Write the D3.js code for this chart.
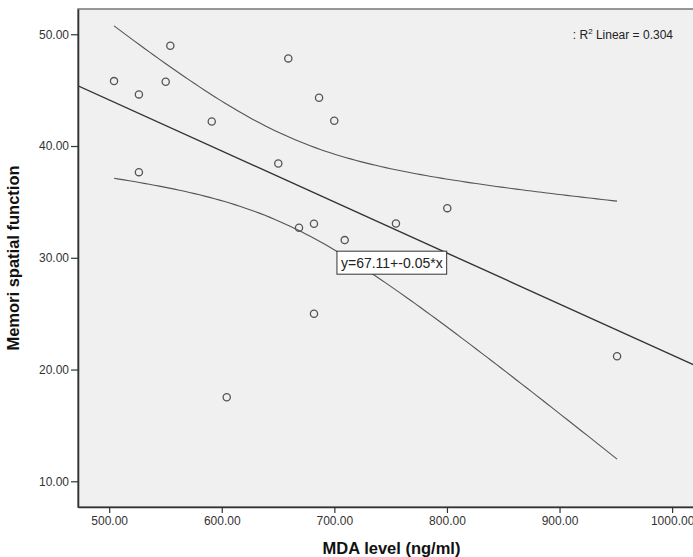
<!DOCTYPE html>
<html>
<head>
<meta charset="utf-8">
<script src="https://cdn.jsdelivr.net/npm/d3@7"></script>
<style>
  body { margin: 0; background: #fff; }
  text { font-family: Arial, "Liberation Sans", sans-serif; }
</style>
</head>
<body>
<div id="chart"></div>
<script>
// data
var mdaLevel = [504.3, 526.4, 526.4, 550.2, 554.3, 591.1, 650.2, 659.1, 686.4,
                699.9, 668.6, 681.9, 709.2, 754.7, 800.3, 681.9, 604.4, 951.1];
var memoriScore = [45.81, 44.62, 37.66, 45.75, 48.97, 42.20, 38.44, 47.84, 44.32,
                   42.26, 32.68, 33.04, 31.58, 33.07, 34.44, 24.99, 17.52, 21.19];
var xTicks = [500, 600, 700, 800, 900, 1000];
var yTicks = [10, 20, 30, 40, 50];
var equationText = "y=67.11+-0.05*x";
var r2Text = "0.304";
var tCrit = 2.12; // t(0.975, df = 16)

// set the specs
var width = 693;
var height = 557;
var marginLeft = 78;
var marginTop = 9;
var plotRight = 705;
var plotBottom = 507;

var svg = d3.select("#chart")
    .append("svg")
    .attr("width", width)
    .attr("height", height);

var xScale = d3.scaleLinear()
    .domain([472.3, 1029.2])
    .range([marginLeft, plotRight]);

var yScale = d3.scaleLinear()
    .domain([7.7, 52.26])
    .range([plotBottom, marginTop]);

// plot background
svg.append("rect")
    .attr("x", marginLeft)
    .attr("y", marginTop)
    .attr("width", plotRight - marginLeft)
    .attr("height", plotBottom - marginTop)
    .attr("fill", "#f0f0f0")
    .attr("stroke", "#777")
    .attr("stroke-width", 1.5);

// least squares fit + 95% band for the mean
var pts = mdaLevel.map(function(x, i){ return {x: x, y: memoriScore[i]}; });
var n = pts.length;
var mx = d3.mean(mdaLevel), my = d3.mean(memoriScore);
var sxx = d3.sum(pts, function(d){ return (d.x - mx) * (d.x - mx); });
var sxy = d3.sum(pts, function(d){ return (d.x - mx) * (d.y - my); });
var slope = sxy / sxx;
var intercept = my - slope * mx;
var sse = d3.sum(pts, function(d){ var r = d.y - (intercept + slope * d.x); return r * r; });
var se = Math.sqrt(sse / (n - 2));

function fit(x){ return intercept + slope * x; }
function half(x){ return tCrit * se * Math.sqrt(1 / n + (x - mx) * (x - mx) / sxx); }

var xMin = d3.min(mdaLevel), xMax = d3.max(mdaLevel);
var bandX = d3.range(0, 101).map(function(i){ return xMin + (xMax - xMin) * i / 100; });

var clip = svg.append("clipPath").attr("id", "plotclip")
    .append("rect")
    .attr("x", marginLeft).attr("y", marginTop)
    .attr("width", plotRight - marginLeft).attr("height", plotBottom - marginTop);

var g = svg.append("g").attr("clip-path", "url(#plotclip)");

var bandLine = d3.line()
    .x(function(d){ return xScale(d[0]); })
    .y(function(d){ return yScale(d[1]); });

g.append("path")
    .attr("d", bandLine(bandX.map(function(x){ return [x, fit(x) + half(x)]; })))
    .attr("fill", "none")
    .attr("stroke", "#555")
    .attr("stroke-width", 1.1);

g.append("path")
    .attr("d", bandLine(bandX.map(function(x){ return [x, fit(x) - half(x)]; })))
    .attr("fill", "none")
    .attr("stroke", "#555")
    .attr("stroke-width", 1.1);

// fit line across the whole plot
var xd = xScale.domain();
g.append("line")
    .attr("x1", xScale(xd[0])).attr("y1", yScale(fit(xd[0])))
    .attr("x2", xScale(xd[1])).attr("y2", yScale(fit(xd[1])))
    .attr("stroke", "#333")
    .attr("stroke-width", 1.4);

// points
g.selectAll("circle")
    .data(pts)
    .enter()
    .append("circle")
    .attr("cx", function(d){ return xScale(d.x); })
    .attr("cy", function(d){ return yScale(d.y); })
    .attr("r", 3.6)
    .attr("fill", "none")
    .attr("stroke", "#555")
    .attr("stroke-width", 1.3);

// axes
var xAxis = d3.axisBottom(xScale)
    .tickValues(xTicks)
    .tickFormat(d3.format(".2f"))
    .tickSize(6)
    .tickPadding(3)
    .tickSizeOuter(0);

var yAxis = d3.axisLeft(yScale)
    .tickValues(yTicks)
    .tickFormat(d3.format(".2f"))
    .tickSize(7)
    .tickPadding(2)
    .tickSizeOuter(0);

var gx = svg.append("g")
    .attr("transform", "translate(0," + plotBottom + ")")
    .call(xAxis);

var gy = svg.append("g")
    .attr("transform", "translate(" + marginLeft + ",0)")
    .call(yAxis);

[gx, gy].forEach(function(a){
    a.select(".domain").attr("stroke", "#333").attr("stroke-width", 1.6);
    a.selectAll(".tick line").attr("stroke", "#333").attr("stroke-width", 1.2);
    a.selectAll(".tick text")
        .attr("fill", "#333")
        .style("font-size", "12px")
        .style("font-family", "Arial, 'Liberation Sans', sans-serif");
});

// axis titles
svg.append("text")
    .attr("x", (marginLeft + plotRight) / 2)
    .attr("y", 554)
    .attr("text-anchor", "middle")
    .style("font-size", "16.5px")
    .style("font-weight", "bold")
    .attr("fill", "#111")
    .text("MDA level (ng/ml)");

svg.append("text")
    .attr("transform", "translate(19," + ((marginTop + plotBottom) / 2) + ") rotate(-90)")
    .attr("text-anchor", "middle")
    .style("font-size", "16.5px")
    .style("font-weight", "bold")
    .attr("fill", "#111")
    .text("Memori spatial function");

// R squared label
var r2 = svg.append("text")
    .attr("x", 673)
    .attr("y", 39)
    .attr("text-anchor", "end")
    .style("font-size", "12px")
    .attr("fill", "#222");
r2.append("tspan").text(": R");
r2.append("tspan").attr("dy", -5).style("font-size", "8px").text("2");
r2.append("tspan").attr("dy", 5).text(" Linear = " + r2Text);

// equation label box
var eqX = xScale(702.3), eqY = yScale(30.59);
var eq = svg.append("g").attr("transform", "translate(" + eqX + "," + eqY + ")");
var eqText = eq.append("text")
    .attr("x", 4)
    .attr("y", 17)
    .style("font-size", "14px")
    .attr("fill", "#222")
    .text(equationText);
var bb = eqText.node().getBBox();
eq.insert("rect", "text")
    .attr("x", 0)
    .attr("y", 0)
    .attr("width", bb.width + 8)
    .attr("height", 23)
    .attr("fill", "#fff")
    .attr("stroke", "#333")
    .attr("stroke-width", 1);
</script>
</body>
</html>
